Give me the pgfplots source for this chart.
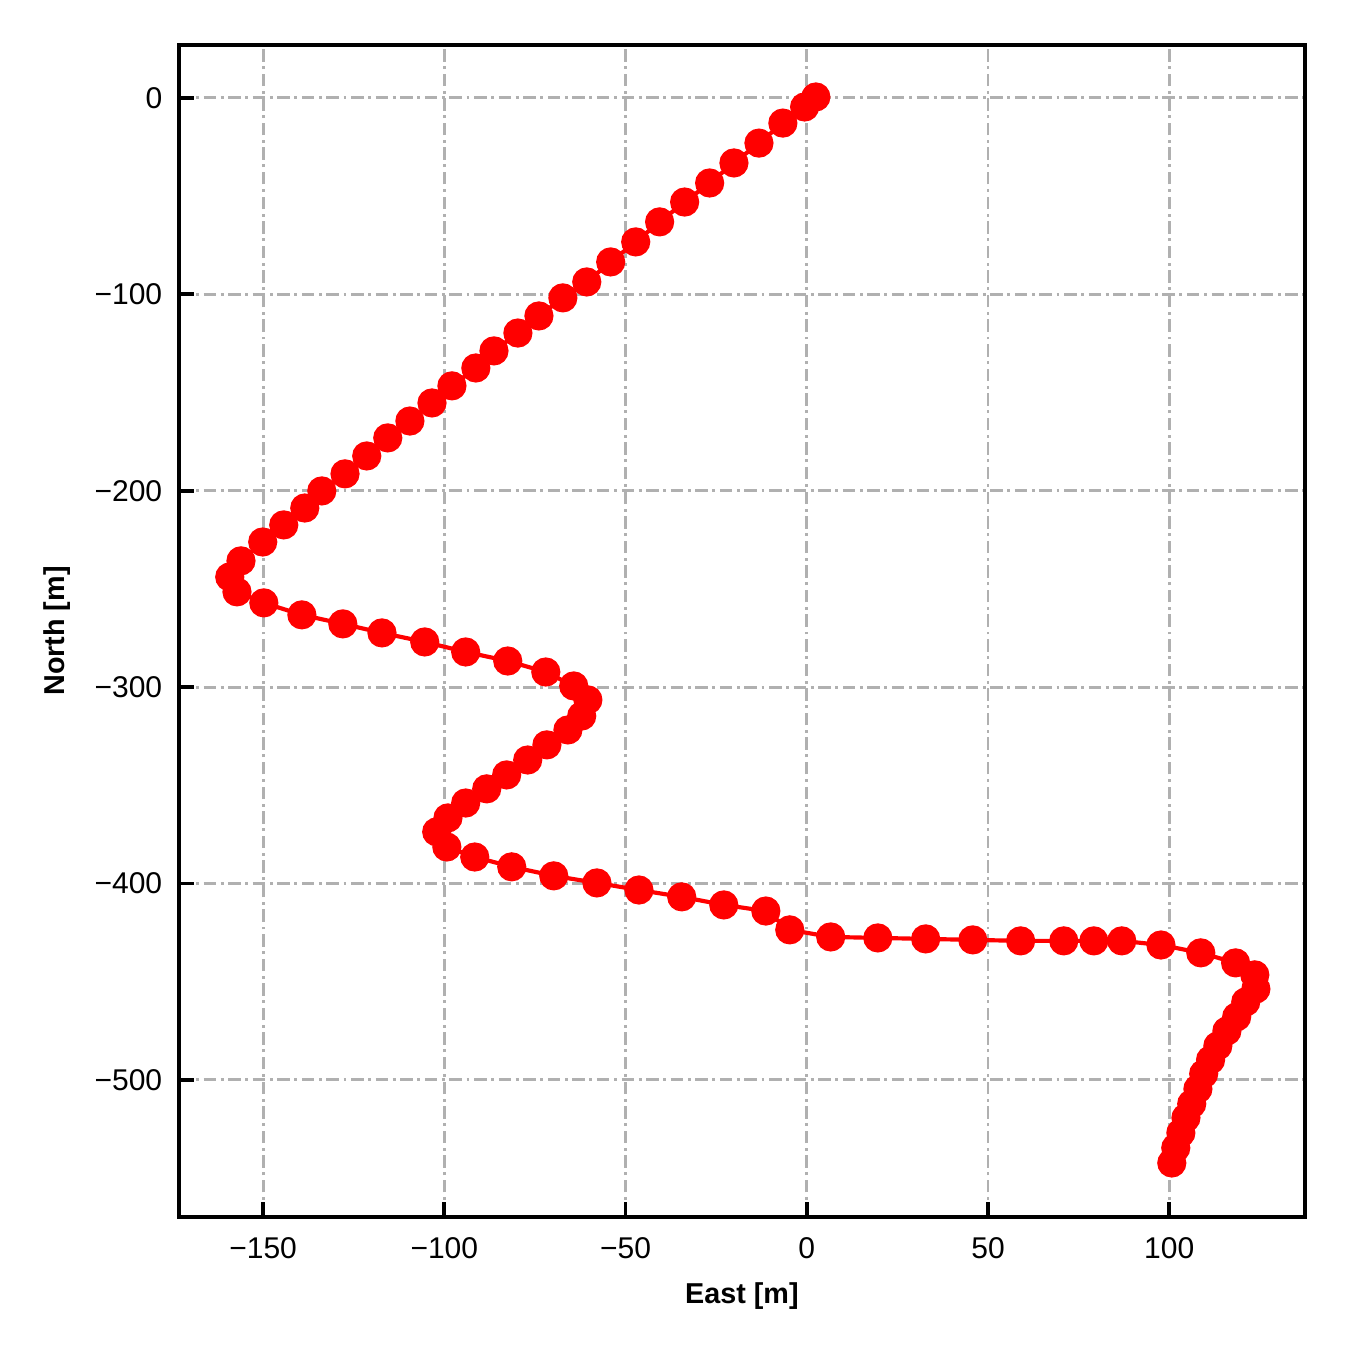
\documentclass[border=0pt]{standalone}
\usepackage{pgfplots}
\pgfplotsset{compat=1.18}
\usepackage{fontspec}
\setmainfont{Liberation Sans}
\definecolor{gridgray}{HTML}{B0B0B0}
\begin{document}
\begin{tikzpicture}
\path (-42.96pt,-31.92pt) rectangle (281.04pt,292.08pt);
\begin{axis}[
  at={(0,0)}, anchor=south west,
  width=270.2pt, height=281.3pt, scale only axis,
  xmin=-173.2, xmax=137.4, ymin=-569.8, ymax=27,
  axis line style={line width=0.9pt},
  tick align=inside, xtick pos=left, ytick pos=left,
  major tick length=3.5pt,
  tick style={black, line width=0.9pt},
  xtick={-150,-100,-50,0,50,100},
  xticklabels={−150,−100,−50,0,50,100},
  ytick={-500,-400,-300,-200,-100,0},
  yticklabels={−500,−400,−300,−200,−100,0},
  ticklabel style={font=\fontsize{7.2pt}{8pt}\selectfont},
  xticklabel style={yshift=-1.5pt},
  yticklabel style={xshift=-0.5pt},
  grid=major,
  major grid style={color=gridgray, line width=0.7pt, dash pattern=on 3pt off 1.1pt on 0.7pt off 1.1pt},
  xlabel={\textbf{East [m]}},
  ylabel={\textbf{North [m]}},
  label style={font=\fontsize{6.9pt}{7.5pt}\selectfont},
  xlabel style={yshift=1.2pt},
  ylabel style={yshift=-1pt},
]
\addplot[red, line width=1pt, mark=*, mark size=3pt, mark options={fill=red, draw=red}] coordinates {
(2.5,0.5)
(-0.6,-4.6)
(-6.6,-12.8)
(-13.2,-23)
(-20.1,-33.1)
(-26.8,-43.3)
(-33.7,-53)
(-40.6,-63.1)
(-47.2,-73.3)
(-54.1,-83.5)
(-60.7,-93.7)
(-67.3,-101.8)
(-73.9,-111)
(-79.7,-119.7)
(-86.3,-128.8)
(-91.3,-137.5)
(-97.9,-146.6)
(-103.4,-155.3)
(-109.5,-164.5)
(-115.6,-173.1)
(-121.4,-182.3)
(-127.4,-191.4)
(-133.8,-200.1)
(-138.5,-208.8)
(-144.3,-217.4)
(-150.1,-226.1)
(-156.1,-235.7)
(-159.2,-243.9)
(-157.2,-251.5)
(-149.8,-257.1)
(-139.3,-263.2)
(-128,-267.8)
(-117.2,-272.4)
(-105.4,-277)
(-94.1,-282.1)
(-82.5,-286.7)
(-72,-292.3)
(-64.3,-299.4)
(-60.4,-306.5)
(-62.1,-314.7)
(-65.9,-321.8)
(-71.7,-329.4)
(-77,-337.1)
(-82.8,-344.7)
(-88.3,-351.8)
(-94.1,-359)
(-99,-366.6)
(-102.1,-373.7)
(-99.3,-381.4)
(-91.6,-386.5)
(-81.4,-391.5)
(-69.8,-396.1)
(-57.9,-399.7)
(-46.3,-403.3)
(-34.5,-406.8)
(-22.9,-410.9)
(-11.3,-414)
(-4.7,-423.6)
(6.6,-427.2)
(19.6,-427.7)
(32.8,-428.2)
(45.8,-428.7)
(59,-429.2)
(70.9,-429.2)
(79.2,-429.2)
(86.9,-429.2)
(97.7,-431.3)
(108.7,-435.3)
(118.3,-440.4)
(123.6,-446.5)
(123.9,-453.7)
(121.1,-460.3)
(118.6,-467.9)
(115.9,-475.1)
(113.4,-482.7)
(111.4,-489.8)
(109.5,-496.9)
(107.9,-504.6)
(106.2,-512.2)
(104.6,-519.3)
(103.2,-527)
(101.8,-534.6)
(100.7,-542.3)
};
\end{axis}
\end{tikzpicture}
\end{document}
